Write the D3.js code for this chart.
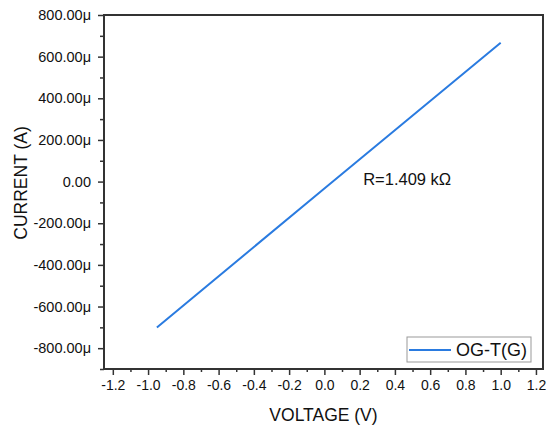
<!DOCTYPE html>
<html>
<head>
<meta charset="utf-8">
<script src="https://cdn.jsdelivr.net/npm/d3@7"></script>
<style>
  body { margin: 0; background: #fff; }
  text { font-family: "Liberation Sans", Arial, sans-serif; fill: #111; }
</style>
</head>
<body>
<script>
// values (V in volts, I in amperes)
var voltage = [-0.95, 0.0, 1.0];
var current = [-701e-6, -33e-6, 667e-6];
var seriesName = "OG-T(G)";
var xTicks = [-1.2, -1.0, -0.8, -0.6, -0.4, -0.2, 0.0, 0.2, 0.4, 0.6, 0.8, 1.0, 1.2];
var yTicks = [-800e-6, -600e-6, -400e-6, -200e-6, 0, 200e-6, 400e-6, 600e-6, 800e-6];
var annotation = "R=1.409 k\u03A9";

var width = 558, height = 437;
var plotLeft = 104, plotRight = 543, plotTop = 15, plotBottom = 369;
var axisColor = "#333";

const svg = d3
  .select("body")
  .append("svg")
  .attr("width", width)
  .attr("height", height);

const x = d3.scaleLinear().domain([-1.25, 1.24]).range([plotLeft, plotRight]);
const y = d3.scaleLinear().domain([-900e-6, 800e-6]).range([plotBottom, plotTop]);

function fmtY(v) {
  var u = Math.round(v * 1e6);
  if (u === 0) return "0.00";
  return (u < 0 ? "-" : "") + Math.abs(u).toFixed(2) + "\u03BC";
}
function fmtX(v) {
  var s = Math.abs(v).toFixed(1);
  return (v < -1e-9 ? "-" : "") + s;
}

// minor ticks
var xMinor = d3.range(-12, 13).filter(function (d) { return d % 2 !== 0; }).map(function (d) { return d / 10; });
var yMinor = d3.range(-9, 8).filter(function (d) { return d % 2 !== 0; }).map(function (d) { return d * 100e-6; });

svg.append("g")
  .attr("transform", "translate(0," + plotBottom + ")")
  .call(d3.axisBottom(x).tickValues(xMinor).tickSize(3).tickFormat(""))
  .call(function (g) { g.select(".domain").remove(); });
svg.append("g")
  .attr("transform", "translate(" + plotLeft + ",0)")
  .call(d3.axisLeft(y).tickValues(yMinor).tickSize(4).tickFormat(""))
  .call(function (g) { g.select(".domain").remove(); });

const xAxis = svg.append("g")
  .attr("transform", "translate(0," + plotBottom + ")")
  .call(d3.axisBottom(x).tickValues(xTicks).tickSize(6).tickPadding(5).tickFormat(fmtX))
  .call(function (g) { g.select(".domain").remove(); });
xAxis.selectAll("text").style("font-size", "14px");

const yAxis = svg.append("g")
  .attr("transform", "translate(" + plotLeft + ",0)")
  .call(d3.axisLeft(y).tickValues(yTicks).tickSize(6).tickPadding(7).tickFormat(fmtY))
  .call(function (g) { g.select(".domain").remove(); });
yAxis.selectAll("text").style("font-size", "14.5px");

svg.selectAll(".tick line").attr("stroke", axisColor).attr("stroke-width", 1.5);

// frame
svg.append("rect")
  .attr("x", plotLeft)
  .attr("y", plotTop)
  .attr("width", plotRight - plotLeft)
  .attr("height", plotBottom - plotTop)
  .attr("fill", "none")
  .attr("stroke", axisColor)
  .attr("stroke-width", 2);

// series
const line = d3.line()
  .x(function (d, i) { return x(voltage[i]); })
  .y(function (d, i) { return y(current[i]); });

svg.append("path")
  .datum(voltage)
  .attr("d", line)
  .attr("fill", "none")
  .attr("stroke", "#2a7be0")
  .attr("stroke-width", 2);

svg.append("text")
  .attr("x", x(0.22))
  .attr("y", y(-15e-6))
  .style("font-size", "16.5px")
  .text(annotation);

// axis titles
svg.append("text")
  .attr("x", (plotLeft + plotRight) / 2)
  .attr("y", 421)
  .attr("text-anchor", "middle")
  .style("font-size", "17.5px")
  .text("VOLTAGE (V)");

svg.append("text")
  .attr("transform", "translate(27,183) rotate(-90)")
  .attr("text-anchor", "middle")
  .style("font-size", "17.5px")
  .text("CURRENT (A)");

// legend
const legend = svg.append("g").attr("transform", "translate(407,337)");
legend.append("rect")
  .attr("width", 124)
  .attr("height", 25)
  .attr("fill", "#fff")
  .attr("stroke", "#999")
  .attr("stroke-width", 1);
legend.append("line")
  .attr("x1", 2).attr("x2", 44)
  .attr("y1", 13).attr("y2", 13)
  .attr("stroke", "#2a7be0")
  .attr("stroke-width", 2);
legend.append("text")
  .attr("x", 49)
  .attr("y", 19)
  .style("font-size", "18px")
  .text(seriesName);
</script>
</body>
</html>
